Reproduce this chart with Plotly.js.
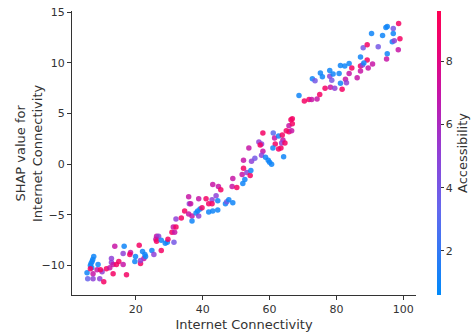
<!DOCTYPE html>
<html>
<head>
<meta charset="utf-8">
<script src="https://cdn.plot.ly/plotly-3.0.1.min.js"></script>
<style>html,body{margin:0;padding:0;background:#fff}#chart{width:471px;height:336px}</style>
</head>
<body>
<div id="chart"></div>
<script>
// Internet Connectivity (feature value)
const internetConnectivity = [
5.4,5.6,7.4,7.1,6.9,6.6,6.4,6.8,6.4,7.2,7.2,9.2,10.4,8.4,8.7,9.9,9.4,11.2,12.2,12.7,
12.7,13.2,14.2,13.7,13.2,14.9,16.5,16.2,17.2,16.2,18.4,18.2,19.9,19.7,21.0,21.4,22.4,21.4,22.0,22.7,
22.9,24.8,25.4,27.6,26.2,26.8,26.0,26.2,27.6,28.8,29.4,29.6,31.4,30.8,31.6,31.2,32.0,32.0,33.6,34.6,
35.8,36.0,36.4,35.8,36.8,36.8,38.0,38.8,38.5,39.2,39.8,38.8,41.0,42.8,41.8,42.8,41.8,43.0,44.5,44.0,
44.5,43.0,44.7,45.4,46.8,47.2,47.8,49.0,48.8,50.2,52.0,49.0,52.6,51.8,53.2,52.2,54.2,54.4,52.2,54.6,
55.6,53.8,58.0,56.8,57.6,57.2,58.0,57.6,58.8,59.6,60.0,60.6,61.1,61.5,62.7,61.7,61.0,62.7,63.4,64.0,
63.8,63.6,64.6,64.2,65.0,65.8,66.6,65.8,66.8,66.4,66.8,68.8,70.4,71.8,72.6,74.2,75.0,72.8,73.6,75.2,
75.8,76.6,78.2,79.5,78.0,78.6,78.0,79.0,80.8,81.2,82.5,83.8,81.2,81.7,82.7,83.0,83.8,84.6,86.2,87.2,
87.2,87.8,89.2,89.5,90.8,87.2,88.2,90.5,93.8,94.8,95.2,98.6,97.0,97.0,96.7,97.3,99.0,92.5,88.0,89.2,
95.2,95.0,98.5
];
// SHAP value for Internet Connectivity
const shapValues = [
-10.7,-11.3,-9.1,-9.4,-9.6,-9.8,-10.0,-10.2,-10.3,-10.8,-11.3,-11.3,-11.6,-10.4,-9.9,-10.6,-10.4,-10.3,-10.2,-9.3,
-9.7,-9.9,-9.9,-8.1,-10.8,-9.6,-8.1,-8.8,-10.9,-9.9,-8.7,-8.9,-9.1,-9.6,-8.0,-9.8,-9.3,-9.5,-8.6,-8.9,
-9.1,-8.5,-8.9,-8.5,-7.1,-7.1,-7.4,-7.6,-7.5,-7.8,-7.7,-7.4,-7.7,-6.7,-6.7,-6.2,-6.2,-5.4,-5.3,-4.6,
-4.9,-3.9,-3.9,-3.2,-5.1,-5.6,-4.8,-5.1,-4.6,-4.4,-4.3,-3.4,-3.4,-3.5,-3.9,-3.9,-4.7,-4.6,-4.5,-3.1,
-3.6,-2.0,-2.2,-2.5,-3.9,-3.7,-3.5,-3.8,-2.2,-2.3,-1.9,-1.4,-1.5,-1.0,-0.8,-0.4,-1.1,-0.6,0.4,0.3,
0.6,1.6,3.1,2.2,2.0,1.9,1.3,0.9,0.7,0.4,0.2,0.0,3.1,2.6,2.8,2.0,1.6,1.5,1.6,2.4,
2.9,2.1,2.1,0.75,3.3,3.2,3.3,3.8,4.0,4.4,4.5,6.8,6.25,6.4,6.4,6.45,6.9,8.45,8.25,9.0,
8.65,7.5,7.6,7.5,8.7,8.3,9.25,8.9,8.95,9.75,9.7,9.95,8.0,7.4,8.4,8.05,8.95,9.5,8.55,9.2,
9.7,9.8,10.3,9.5,9.9,10.6,10.0,12.9,12.7,13.5,13.6,13.9,13.4,12.9,12.1,12.2,12.4,11.6,11.5,11.8,
10.9,10.4,11.3
];
// Accessibility (colour feature)
const accessibility = [
1,3.5,1,1,1,1,1,1,9,7,5,5,9,7,1,5,9,9,7,5,
5,7,9,7,9,9,1,5,9,7,7,9,1,1,9,9,7,5,1,1,
1,1,5,9,7,5,7,9,1,1,1,9,4,9,7,7,9,5,9,9,
7,5,7,7,7,1,1,5,1,1,9,7,9,5,9,9,1,1,1,5,
1,7,7,9,1,4,1,1,7,9,1,7,1,7,5,9,9,1,7,5,
4,7,9,5,5,9,7,5,1,1,1,1,3,7,1,9,1,9,9,7,
9,5,9,1,9,9,7,7,9,9,9,1,9,9,7,7,9,1,4,1,
1,9,7,5,5,4,1,1,1,1,1,1,1,9,7,5,7,9,7,7,
9,5,9,7,7,1,1,1,1,1,1,9,4,1,1,5,9,4,4,9,
1,7,7
];
const xTickVals = [20,40,60,80,100];
const yTickVals = [-10,-5,0,5,10,15];
const yTickText = ['−10','−5','0','5','10','15'];
const cbTickVals = [2,4,6,8];

const shapRedBlue = [
  [0.0,'rgb(0,138,250)'],
  [0.3,'rgb(100,104,238)'],
  [0.5,'rgb(145,64,214)'],
  [0.7,'rgb(196,22,170)'],
  [0.85,'rgb(232,4,122)'],
  [1.0,'rgb(255,0,82)']
];

const FF = 'DejaVu Sans, sans-serif';
const font = {family:FF, size:11, color:'#333'};

const trace = {
  type:'scatter', mode:'markers',
  x: internetConnectivity, y: shapValues,
  marker:{
    size:5.5, color: accessibility, colorscale: shapRedBlue,
    cmin:0.6, cmax:9.6, opacity:0.85, line:{width:0},
    colorbar:{
      xref:'container', x:437/471, xanchor:'left', xpad:0, ypad:0,
      yref:'paper', y:0.5, yanchor:'middle',
      len:1, lenmode:'fraction', thickness:4, outlinewidth:0,
      tickvals: cbTickVals, ticks:'outside', ticklen:3, tickcolor:'#333',
      tickfont:font,
      title:{text:'Accessibility', side:'right', font:{family:FF, size:13, color:'#333'}}
    }
  },
  hoverinfo:'none', showlegend:false
};

const layout = {
  width:471, height:336,
  margin:{l:72, r:55, t:11, b:41, pad:0, autoexpand:false},
  paper_bgcolor:'#fff', plot_bgcolor:'#fff',
  font: font,
  xaxis:{
    range:[0.9,103.8], tickvals:xTickVals, showgrid:false, zeroline:false,
    showline:true, linecolor:'#333', linewidth:1, ticks:'outside', ticklen:4, tickcolor:'#333',
    tickfont:font,
    title:{text:'Internet Connectivity', font:{family:FF, size:13, color:'#333'}, standoff:4}
  },
  yaxis:{
    range:[-12.9,15.13], tickvals:yTickVals, ticktext:yTickText,
    showgrid:false, zeroline:false,
    showline:true, linecolor:'#333', linewidth:1, ticks:'outside', ticklen:4, tickcolor:'#333',
    tickfont:font
  },
  annotations:[{
    xref:'paper', yref:'paper', x:(29-72)/344, y:0.5, xanchor:'center', yanchor:'middle',
    text:'SHAP value for<br>Internet Connectivity', textangle:-90, showarrow:false,
    font:{family:FF, size:13, color:'#333'}
  }]
};

Plotly.newPlot('chart', [trace], layout, {staticPlot:true, displayModeBar:false});
</script>
</body>
</html>
